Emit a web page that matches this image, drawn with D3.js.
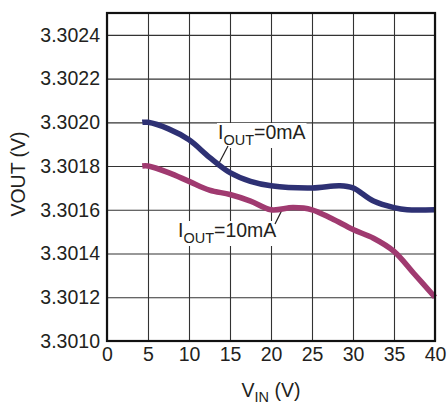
<!DOCTYPE html>
<html>
<head>
<meta charset="utf-8">
<script src="https://cdn.jsdelivr.net/npm/d3@7"></script>
<style>
  body { margin: 0; background: #fff; }
  svg { display: block; font-family: "Liberation Sans", Arial, sans-serif; }
</style>
</head>
<body>
<svg id="chart" width="448" height="404"></svg>
<script>
// values
const xTicks = [0, 5, 10, 15, 20, 25, 30, 35, 40];
const yTicks = [3.3010, 3.3012, 3.3014, 3.3016, 3.3018, 3.3020, 3.3022, 3.3024];

const vin0 = [4.3, 5, 7.5, 10, 12.5, 15, 17.5, 20, 25, 28.4, 30, 32.5, 35, 36.6, 40];
const vout0 = [3.30200, 3.30200, 3.30197, 3.30192, 3.30184, 3.30177, 3.30173, 3.30171, 3.30170,
  3.30171, 3.30170, 3.30164, 3.30161, 3.30160, 3.30160];

const vin10 = [4.3, 5, 7.5, 10, 12.5, 15, 17.5, 20, 22.7, 25, 27.4, 30, 32.5, 35, 37.4, 40];
const vout10 = [3.30180, 3.30180, 3.30177, 3.30173, 3.30169, 3.30167, 3.30164, 3.30160, 3.30161,
  3.30160, 3.30156, 3.30151, 3.30147, 3.30141, 3.30131, 3.30120];

const svg = d3.select("#chart");
const margin = { top: 13, right: 13, bottom: 63, left: 107 };
const w = 448 - margin.left - margin.right;
const h = 404 - margin.top - margin.bottom;
const ink = "#231f20";

const g = svg.append("g").attr("transform", `translate(${margin.left},${margin.top})`);

const x = d3.scaleLinear().domain([0, 40]).range([0, w]);
const y = d3.scaleLinear().domain([3.3010, 3.3025]).range([h, 0]);

// grid
g.append("g")
  .attr("transform", `translate(0,${h})`)
  .call(d3.axisBottom(x).tickValues(xTicks).tickSize(-h).tickFormat(""))
  .call(a => a.select(".domain").remove())
  .selectAll("line").attr("stroke", "#333").attr("stroke-width", 1.1);

g.append("g")
  .call(d3.axisLeft(y).tickValues(yTicks).tickSize(-w).tickFormat(""))
  .call(a => a.select(".domain").remove())
  .selectAll("line").attr("stroke", "#333").attr("stroke-width", 1.1);

// tick labels
g.append("g")
  .attr("transform", `translate(0,${h})`)
  .call(d3.axisBottom(x).tickValues(xTicks).tickSize(0).tickPadding(6))
  .call(a => a.select(".domain").remove())
  .selectAll("text").attr("font-size", 19.5).attr("fill", ink).attr("font-family", null);

g.append("g")
  .call(d3.axisLeft(y).tickValues(yTicks).tickSize(0).tickPadding(7).tickFormat(d3.format(".4f")))
  .call(a => a.select(".domain").remove())
  .selectAll("text").attr("font-size", 19.5).attr("fill", ink).attr("font-family", null);

// labels with white backing
function label(tx, ty, sub, rest, lx1, ly1, lx2, ly2) {
  const lg = g.append("g");
  const bg = lg.append("rect").attr("fill", "#fff");
  const t = lg.append("text")
    .attr("x", tx).attr("y", ty)
    .attr("font-size", 19.5).attr("fill", ink);
  t.append("tspan").text("I");
  t.append("tspan").attr("font-size", 14.5).attr("dy", 6).text(sub);
  t.append("tspan").attr("dy", -6).text(rest);
  const b = t.node().getBBox();
  bg.attr("x", b.x - 1).attr("y", b.y + 2)
    .attr("width", b.width + 2).attr("height", b.height - 2);
  lg.append("line")
    .attr("x1", lx1).attr("y1", ly1).attr("x2", lx2).attr("y2", ly2)
    .attr("stroke", ink).attr("stroke-width", 1.2);
}

const line = d3.line()
  .x(d => x(d[0]))
  .y(d => y(d[1]))
  .curve(d3.curveCatmullRom.alpha(0.5));

label(111, 126, "OUT", "=0mA", 121, 133, 110, 154);
label(71, 224, "OUT", "=10mA", 175, 197, 168, 211);

g.append("path")
  .datum(vin0.map((v, i) => [v, vout0[i]]))
  .attr("d", line)
  .attr("fill", "none")
  .attr("stroke", "#2e3174")
  .attr("stroke-width", 5.5);

g.append("path")
  .datum(vin10.map((v, i) => [v, vout10[i]]))
  .attr("d", line)
  .attr("fill", "none")
  .attr("stroke", "#a03a70")
  .attr("stroke-width", 5.5);

// frame
g.append("rect")
  .attr("width", w).attr("height", h)
  .attr("fill", "none").attr("stroke", "#111").attr("stroke-width", 2.2);

// axis titles
const xt = svg.append("text")
  .attr("x", margin.left + w / 2).attr("y", 397)
  .attr("text-anchor", "middle").attr("font-size", 19.5).attr("fill", ink);
xt.append("tspan").text("V");
xt.append("tspan").attr("font-size", 14.5).attr("dy", 5).text("IN");
xt.append("tspan").attr("dy", -5).text(" (V)");

svg.append("text")
  .attr("transform", `translate(25,${margin.top + h / 2 - 3}) rotate(-90)`)
  .attr("text-anchor", "middle").attr("font-size", 19.5).attr("fill", ink)
  .text("VOUT (V)");
</script>
</body>
</html>
